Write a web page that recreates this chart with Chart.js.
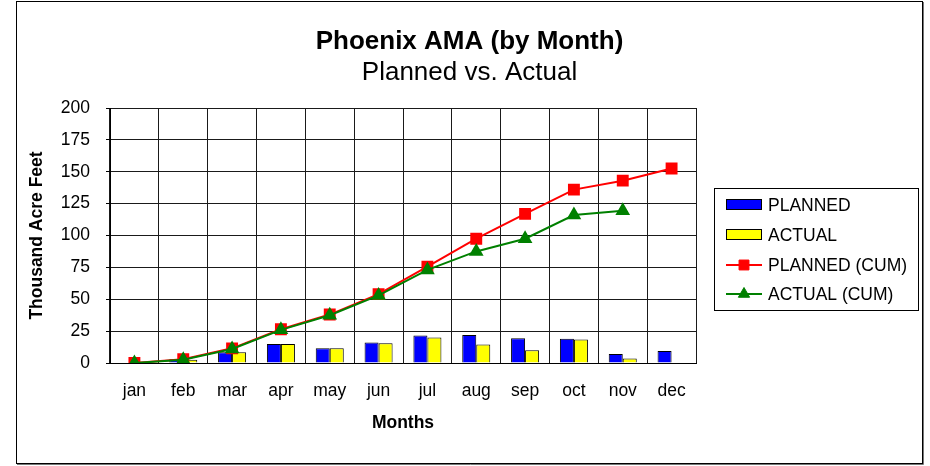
<!DOCTYPE html>
<html>
<head>
<meta charset="utf-8">
<script src="https://cdn.jsdelivr.net/npm/chart.js@4/dist/chart.umd.min.js"></script>
<style>
html,body{margin:0;padding:0;background:#fff;}
#c{display:block;}
</style>
</head>
<body>
<canvas id="c" width="930" height="466"></canvas>
<script>
// ---- data ----
const months = ['jan','feb','mar','apr','may','jun','jul','aug','sep','oct','nov','dec'];
const planned = [0, 3, 8.5, 15, 11.5, 16, 21.5, 22, 19.5, 19, 7, 9.5];
const actual = [0, 2.5, 8.5, 15, 11.5, 15.5, 20, 14.5, 10, 18.5, 3.5];
const plannedCum = [0, 3, 11.5, 26.5, 38, 54, 75.5, 97.5, 117, 136, 143, 152.5];
const actualCum = [0, 2.5, 11, 26, 37.5, 53, 73, 87.5, 97.5, 116, 119.5];
const yMin = 0, yMax = 200, yStep = 25;
const titleText = 'Phoenix AMA (by Month)';
const subtitleText = 'Planned vs. Actual';
const xTitle = 'Months';
const yTitle = 'Thousand Acre Feet';
const seriesNames = ['PLANNED', 'ACTUAL', 'PLANNED (CUM)', 'ACTUAL (CUM)'];

const FONT = '"Liberation Sans", Arial, Helvetica, sans-serif';

function drawMarker(ctx, style, x, y, r, fill, stroke) {
  ctx.save();
  ctx.fillStyle = fill; ctx.strokeStyle = stroke; ctx.lineWidth = 1;
  ctx.beginPath();
  if (style === 'rect') {
    const s = r * Math.SQRT1_2;
    ctx.rect(x - s, y - s, 2 * s, 2 * s);
  } else {
    ctx.moveTo(x, y - r);
    ctx.lineTo(x + r * Math.sqrt(3) / 2, y + r / 2);
    ctx.lineTo(x - r * Math.sqrt(3) / 2, y + r / 2);
    ctx.closePath();
  }
  ctx.fill(); ctx.stroke();
  ctx.restore();
}

const framePlugin = {
  id: 'framePlugin',
  beforeDraw(chart) {
    const ctx = chart.ctx;
    ctx.save();
    ctx.fillStyle = '#fff';
    ctx.fillRect(0, 0, chart.width, chart.height);
    ctx.restore();
  },
  afterDraw(chart) {
    const ctx = chart.ctx, a = chart.chartArea;
    ctx.save();
    // outer frame
    ctx.strokeStyle = '#000'; ctx.lineWidth = 1;
    ctx.strokeRect(16.5, 1.5, 906, 462);
    ctx.strokeStyle = '#777';
    ctx.beginPath();
    ctx.moveTo(923.5, 2); ctx.lineTo(923.5, 464.5); ctx.lineTo(17, 464.5);
    ctx.stroke();

    // legend box
    const lx = a.right + 18, ly = a.top + 80, lw = 204, lh = 122;
    ctx.fillStyle = '#fff';
    ctx.fillRect(lx, ly, lw, lh);
    ctx.strokeStyle = '#000'; ctx.lineWidth = 1;
    ctx.strokeRect(lx + 0.5, ly + 0.5, lw, lh);
    const ds = chart.data.datasets;
    const rows = [ly + 17, ly + 47, ly + 77, ly + 106];
    const sx = lx + 12, sw = 36;
    ctx.font = '17.5px ' + FONT;
    ctx.textBaseline = 'middle';
    ctx.textAlign = 'left';
    for (let i = 0; i < 4; i++) {
      const d = ds[i], y = rows[i];
      if (d.type === 'bar') {
        ctx.fillStyle = d.backgroundColor;
        ctx.fillRect(sx, y - 6, sw, 11);
        ctx.strokeStyle = '#000'; ctx.lineWidth = 1;
        ctx.strokeRect(sx + 0.5, y - 5.5, sw - 1, 10);
      } else {
        ctx.strokeStyle = d.borderColor; ctx.lineWidth = 2;
        ctx.beginPath(); ctx.moveTo(sx, y); ctx.lineTo(sx + sw, y); ctx.stroke();
        drawMarker(ctx, d.pointStyle, sx + sw / 2, y, d.pointRadius, d.pointBackgroundColor, d.borderColor);
      }
      ctx.fillStyle = '#000';
      ctx.fillText(d.label, lx + 54, y + 1);
    }
    ctx.restore();
  }
};

new Chart(document.getElementById('c'), {
  data: {
    labels: months,
    datasets: [
      { type: 'bar', label: seriesNames[0], data: planned, backgroundColor: '#0000ff',
        borderColor: '#000', borderWidth: 1, order: 2, categoryPercentage: 0.574, barPercentage: 1 },
      { type: 'bar', label: seriesNames[1], data: actual, backgroundColor: '#ffff00',
        borderColor: '#000', borderWidth: 1, order: 3, categoryPercentage: 0.574, barPercentage: 1 },
      { type: 'line', label: seriesNames[2], data: plannedCum, borderColor: '#ff0000', borderWidth: 2,
        pointStyle: 'rect', pointRadius: 7, pointBackgroundColor: '#ff0000', pointBorderColor: '#ff0000',
        tension: 0, fill: false, order: 1 },
      { type: 'line', label: seriesNames[3], data: actualCum, borderColor: '#008000', borderWidth: 2,
        pointStyle: 'triangle', pointRadius: 6.5, pointBackgroundColor: '#008000', pointBorderColor: '#008000',
        tension: 0, fill: false, order: 0 }
    ]
  },
  options: {
    responsive: false,
    devicePixelRatio: 1,
    animation: false,
    events: [],
    layout: { padding: { left: 16, right: 7, top: 0, bottom: 2 } },
    plugins: {
      legend: { display: false },
      tooltip: { enabled: false },
      title: { display: true, text: titleText, color: '#000',
        font: { family: FONT, size: 26, weight: 'bold', lineHeight: 1.2 }, padding: { top: 26.4, bottom: 0 } },
      subtitle: { display: true, text: subtitleText, color: '#000',
        font: { family: FONT, size: 26, weight: 'normal', lineHeight: 1.2 }, padding: { top: 0, bottom: 19.2 } }
    },
    scales: {
      x: {
        offset: true,
        grid: { display: true, offset: true, color: '#1a1a1a', lineWidth: 1, drawTicks: false },
        border: { display: true, color: '#000', width: 1 },
        ticks: { color: '#000', font: { family: FONT, size: 17.5 }, padding: 18, maxRotation: 0 },
        title: { display: true, text: xTitle, color: '#000',
          font: { family: FONT, size: 17.5, weight: 'bold', lineHeight: 1.2 }, padding: { top: 0, bottom: 30 } },
        afterFit(s) { s.height = 101; }
      },
      y: {
        min: yMin, max: yMax,
        grid: { color: '#1a1a1a', lineWidth: 1, drawTicks: true, tickLength: 4, tickColor: '#000' },
        border: { display: true, color: '#000', width: 1 },
        ticks: { stepSize: yStep, color: '#000', font: { family: FONT, size: 17.5 }, padding: 16 },
        title: { display: true, text: yTitle, color: '#000',
          font: { family: FONT, size: 17.5, weight: 'bold', lineHeight: 1.2 }, padding: { top: 11, bottom: 0 } },
        afterFit(s) { s.width = 94; }
      },
      yR: {
        position: 'right', display: true,
        grid: { display: false, drawTicks: false }, border: { display: false },
        ticks: { display: false },
        afterFit(s) { s.width = 227; }
      }
    }
  },
  plugins: [framePlugin]
});
</script>
</body>
</html>
